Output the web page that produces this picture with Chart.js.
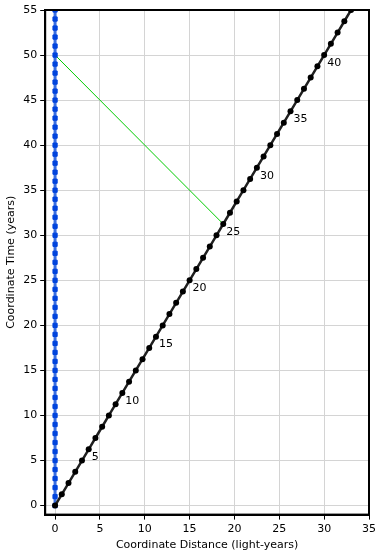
<!DOCTYPE html>
<html>
<head>
<meta charset="utf-8">
<script src="https://cdn.jsdelivr.net/npm/chart.js@4.4.1/dist/chart.umd.min.js"></script>
<style>
  html, body { margin: 0; padding: 0; background: #fff; }
  #wrap { width: 381px; height: 555px; }
</style>
</head>
<body>
<div id="wrap"><canvas id="chart"></canvas></div>
<script>
// stay-at-home twin: one dot per coordinate year
const homeX = [0,0,0,0,0,0,0,0,0,0,0,0,0,0,0,0,0,0,0,0,0,0,0,0,0,0,0,0,0,0,0,0,0,0,0,0,0,0,0,0,0,0,0,0,0,0,0,0,0,0,0,0,0,0,0,0];
const homeT = [0,1,2,3,4,5,6,7,8,9,10,11,12,13,14,15,16,17,18,19,20,21,22,23,24,25,26,27,28,29,30,31,32,33,34,35,36,37,38,39,40,41,42,43,44,45,46,47,48,49,50,51,52,53,54,55];

// travelling twin: one dot per proper year
const travX = [0,0.75,1.5,2.25,3,3.75,4.5,5.25,6,6.75,7.5,8.25,9,9.75,10.5,11.25,12,12.75,13.5,14.25,15,15.75,16.5,17.25,18,18.75,19.5,20.25,21,21.75,22.5,23.25,24,24.75,25.5,26.25,27,27.75,28.5,29.25,30,30.75,31.5,32.25,33];
const travT = [0,1.25,2.5,3.75,5,6.25,7.5,8.75,10,11.25,12.5,13.75,15,16.25,17.5,18.75,20,21.25,22.5,23.75,25,26.25,27.5,28.75,30,31.25,32.5,33.75,35,36.25,37.5,38.75,40,41.25,42.5,43.75,45,46.25,47.5,48.75,50,51.25,52.5,53.75,55];

// light signal
const signalX = [0, 18.75];
const signalT = [50, 31.25];

// proper-time labels on the traveller's line
const labelText = ['5','10','15','20','25','30','35','40'];
const labelX = [3.75, 7.5, 11.25, 15, 18.75, 22.5, 26.25, 30];
const labelT = [6.25, 12.5, 18.75, 25, 31.25, 37.5, 43.75, 50];

const xTicks = [0, 5, 10, 15, 20, 25, 30, 35];
const yTicks = [0, 5, 10, 15, 20, 25, 30, 35, 40, 45, 50, 55];

const FONT = 'Tahoma, "DejaVu Sans", sans-serif';

const pts = (xs, ys) => xs.map((x, i) => ({ x, y: ys[i] }));

// frame around the plot + tau labels
const extras = {
    id: 'extras',
    afterDatasetsDraw(chart) {
        const { ctx, chartArea: a, scales: { x, y } } = chart;
        ctx.save();
        ctx.font = '11px ' + FONT;
        ctx.fillStyle = '#000';
        ctx.textAlign = 'left';
        ctx.textBaseline = 'middle';
        labelText.forEach((t, i) => {
            ctx.fillText(t, x.getPixelForValue(labelX[i]) + 3, y.getPixelForValue(labelT[i]) + 8);
        });
        ctx.strokeStyle = '#000';
        ctx.lineWidth = 2;
        ctx.strokeRect(a.left, a.top, a.right - a.left, a.bottom - a.top);
        ctx.restore();
    }
};

new Chart(document.getElementById('chart'), {
    type: 'scatter',
    data: {
        datasets: [
            {
                label: 'Signal',
                data: pts(signalX, signalT),
                showLine: true,
                borderColor: '#00cc00',
                borderWidth: 1,
                pointRadius: 0,
                order: 3
            },
            {
                label: 'Home',
                data: pts(homeX, homeT),
                showLine: true,
                borderColor: '#3a6ee0',
                borderWidth: 3,
                pointStyle: 'rect',
                pointRadius: 3,
                pointBackgroundColor: '#0044dd',
                pointBorderColor: '#0044dd',
                pointBorderWidth: 1,
                order: 2
            },
            {
                label: 'Traveller',
                data: pts(travX, travT),
                showLine: true,
                borderColor: '#202020',
                borderWidth: 2.5,
                pointRadius: 3,
                pointBackgroundColor: '#000',
                pointBorderColor: '#000',
                pointBorderWidth: 0,
                order: 1
            }
        ]
    },
    options: {
        responsive: true,
        maintainAspectRatio: false,
        animation: false,
        layout: { padding: { top: 10, right: 12, left: 5, bottom: 3 } },
        plugins: { legend: { display: false }, tooltip: { enabled: false } },
        scales: {
            x: {
                type: 'linear',
                min: -1.1,
                max: 35,
                afterBuildTicks: s => { s.ticks = xTicks.map(v => ({ value: v })); },
                grid: { color: '#d4d4d4', tickColor: '#000', tickLength: 5, lineWidth: 1 },
                border: { color: '#000', width: 2 },
                ticks: { color: '#000', font: { family: FONT, size: 11 }, padding: 3, maxRotation: 0 },
                title: { display: true, text: 'Coordinate Distance (light-years)', color: '#000', font: { family: FONT, size: 11 }, padding: { top: 0, bottom: 0 } }
            },
            y: {
                type: 'linear',
                min: -1,
                max: 55,
                afterBuildTicks: s => { s.ticks = yTicks.map(v => ({ value: v })); },
                grid: { color: '#d4d4d4', tickColor: '#000', tickLength: 5, lineWidth: 1 },
                border: { color: '#000', width: 2 },
                ticks: { color: '#000', font: { family: FONT, size: 11 }, padding: 3 },
                title: { display: true, text: 'Coordinate Time (years)', color: '#000', font: { family: FONT, size: 11 }, padding: { top: 0, bottom: 2 } }
            }
        }
    },
    plugins: [extras]
});
</script>
</body>
</html>
